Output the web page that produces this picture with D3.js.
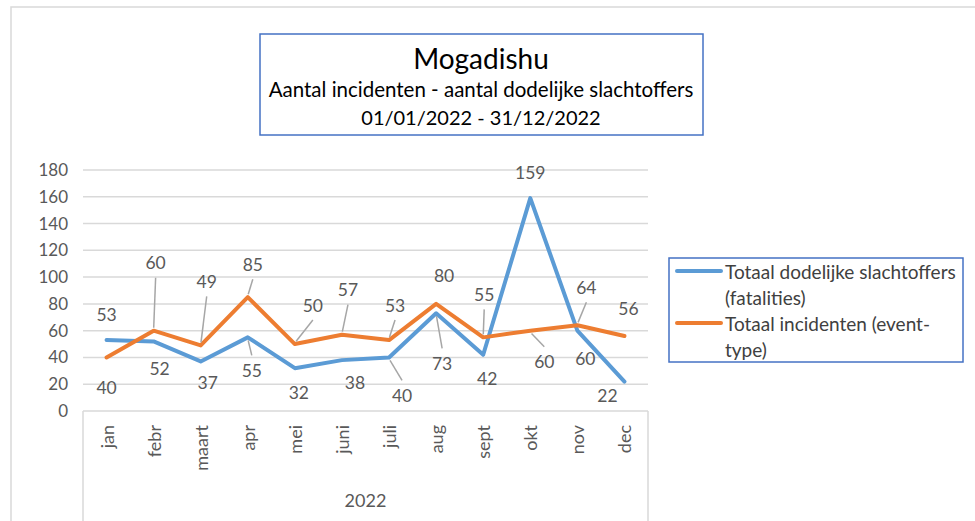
<!DOCTYPE html>
<html>
<head>
<meta charset="utf-8">
<script src="https://cdn.jsdelivr.net/npm/d3@7"></script>
<style>
  body { margin: 0; background: #fff; }
</style>
</head>
<body>
<div id="chart"></div>
<script>
// data
const months = ["jan", "febr", "maart", "apr", "mei", "juni", "juli", "aug", "sept", "okt", "nov", "dec"];
const fatalities = [53, 52, 37, 55, 32, 38, 40, 73, 42, 159, 60, 22];
const incidents = [40, 60, 49, 85, 50, 57, 53, 80, 55, 60, 64, 56];
const yTicks = [0, 20, 40, 60, 80, 100, 120, 140, 160, 180];
const yearLabel = "2022";
const seriesNames = ["Totaal dodelijke slachtoffers (fatalities)", "Totaal incidenten (event-type)"];

// label offsets (px) as placed by hand in the original
const fatalOffsets = [[0, -26], [6, 27], [7, 21], [4, 33], [4, 24], [13, 22], [13, 38], [6, 50], [4, 24], [0, -26], [8, 28], [-17, 14]];
const incOffsets = [[0, 30], [2, -68], [6, -64], [5, -33], [18, -39], [6, -45], [6, -35], [8, -28], [1, -43], [14, 31], [9, -38], [4, -28]];

const width = 975, height = 521;
const font = "Lato, 'Open Sans', sans-serif";
const blue = "#5b9bd5", orange = "#ed7d31", grey = "#595959";

const svg = d3.select("#chart").append("svg")
    .attr("width", width)
    .attr("height", height);

// chart area border
svg.append("rect")
  .attr("x", 11).attr("y", 7)
  .attr("width", 1000).attr("height", 600)
  .attr("fill", "white")
  .attr("stroke", "#d9d9d9")
  .attr("stroke-width", 1.5);

const plot = {left: 83, right: 648, top: 170, bottom: 411};

const x = d3.scaleBand()
    .domain(months)
    .range([plot.left, plot.right]);
const cx = m => x(m) + x.bandwidth() / 2;

const y = d3.scaleLinear()
    .domain([0, 180])
    .range([plot.bottom, plot.top]);

// grid
svg.append("g")
  .selectAll("line")
  .data(yTicks)
  .join("line")
    .attr("x1", plot.left)
    .attr("x2", plot.right)
    .attr("y1", d => y(d))
    .attr("y2", d => y(d))
    .attr("stroke", "#d9d9d9")
    .attr("stroke-width", 1.5);

// y axis labels
const yAxis = d3.axisLeft(y).tickValues(yTicks).tickSize(0).tickPadding(0);
svg.append("g")
  .attr("transform", `translate(68, 0)`)
  .call(yAxis)
  .call(g => g.select(".domain").remove())
  .call(g => g.selectAll("text")
      .attr("font-family", font)
      .attr("font-size", 17)
      .attr("fill", grey));

// category axis box
const catBox = svg.append("g").attr("stroke", "#d9d9d9").attr("stroke-width", 1.5);
catBox.append("line").attr("x1", plot.left).attr("x2", plot.left).attr("y1", plot.bottom).attr("y2", height);
catBox.append("line").attr("x1", plot.right).attr("x2", plot.right).attr("y1", plot.bottom).attr("y2", height);

svg.append("g")
  .selectAll("text")
  .data(months)
  .join("text")
    .attr("transform", d => `translate(${cx(d)}, 425) rotate(-90)`)
    .attr("text-anchor", "end")
    .attr("dominant-baseline", "central")
    .attr("font-family", font)
    .attr("font-size", 18)
    .attr("fill", grey)
    .text(d => d);

svg.append("text")
  .attr("x", (plot.left + plot.right) / 2)
  .attr("y", 500)
  .attr("text-anchor", "middle")
  .attr("dominant-baseline", "central")
  .attr("font-family", font)
  .attr("font-size", 18)
  .attr("fill", grey)
  .text(yearLabel);

// lines
const line = d3.line()
  .x((d, i) => cx(months[i]))
  .y(d => y(d));

const series = [
  {values: fatalities, color: blue, offsets: fatalOffsets},
  {values: incidents, color: orange, offsets: incOffsets}
];

series.forEach(s => {
  svg.append("path")
    .datum(s.values)
    .attr("d", line)
    .attr("fill", "none")
    .attr("stroke", s.color)
    .attr("stroke-width", 4)
    .attr("stroke-linejoin", "round")
    .attr("stroke-linecap", "round");
});

// leader lines and data labels
series.forEach(s => {
  const pts = s.values.map((v, i) => {
    const px = cx(months[i]), py = y(v);
    const [dx, dy] = s.offsets[i];
    return {v, px, py, lx: px + dx, ly: py + dy, dist: Math.hypot(dx, dy)};
  });

  svg.append("g")
    .selectAll("line")
    .data(pts.filter(p => p.dist > 32))
    .join("line")
      .attr("x1", p => p.px + (p.lx - p.px) * 3 / p.dist)
      .attr("y1", p => p.py + (p.ly - p.py) * 3 / p.dist)
      .attr("x2", p => p.lx)
      .attr("y2", p => p.ly + (p.ly < p.py ? 15 : -15))
      .attr("stroke", "#a6a6a6")
      .attr("stroke-width", 1.5);

  svg.append("g")
    .selectAll("text")
    .data(pts)
    .join("text")
      .attr("x", p => p.lx)
      .attr("y", p => p.ly)
      .attr("text-anchor", "middle")
      .attr("dominant-baseline", "central")
      .attr("font-family", font)
      .attr("font-size", 17.5)
      .attr("fill", grey)
      .text(p => p.v);
});

// title box
const title = svg.append("g");
title.append("rect")
  .attr("x", 260).attr("y", 34)
  .attr("width", 443).attr("height", 101)
  .attr("fill", "white")
  .attr("stroke", "#4472c4")
  .attr("stroke-width", 1.5);
const titleLines = [
  {text: "Mogadishu", y: 58, size: 28},
  {text: "Aantal incidenten - aantal dodelijke slachtoffers", y: 89, size: 20.5},
  {text: "01/01/2022 - 31/12/2022", y: 117, size: 20}
];
title.selectAll("text.t")
  .data(titleLines)
  .join("text")
    .attr("class", "t")
    .attr("x", 481)
    .attr("y", d => d.y)
    .attr("text-anchor", "middle")
    .attr("dominant-baseline", "central")
    .attr("font-family", font)
    .attr("font-size", d => d.size)
    .attr("fill", "#000")
    .text(d => d.text);

// legend
const legend = svg.append("g");
legend.append("rect")
  .attr("x", 669).attr("y", 258)
  .attr("width", 294).attr("height", 104)
  .attr("fill", "white")
  .attr("stroke", "#4472c4")
  .attr("stroke-width", 1.5);
const legendRows = [
  {color: blue, lines: ["Totaal dodelijke slachtoffers", "(fatalities)"], y: 271},
  {color: orange, lines: ["Totaal incidenten (event-", "type)"], y: 323}
];
legendRows.forEach(r => {
  legend.append("line")
    .attr("x1", 677).attr("x2", 721)
    .attr("y1", r.y).attr("y2", r.y)
    .attr("stroke", r.color)
    .attr("stroke-width", 4)
    .attr("stroke-linecap", "round");
  r.lines.forEach((t, j) => {
    legend.append("text")
      .attr("x", 725)
      .attr("y", r.y + j * 26)
      .attr("dominant-baseline", "central")
      .attr("font-family", font)
      .attr("font-size", 19)
      .attr("fill", "#404040")
      .text(t);
  });
});
</script>
</body>
</html>
